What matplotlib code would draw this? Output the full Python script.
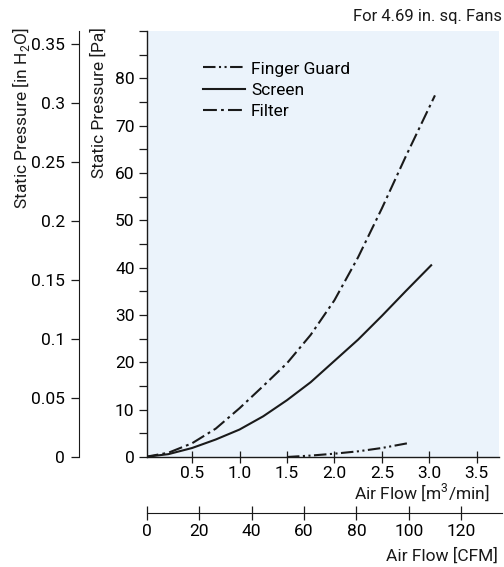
import matplotlib
matplotlib.use("Agg")
import matplotlib.pyplot as plt
from matplotlib.ticker import MultipleLocator, FixedLocator, FixedFormatter

# --- data ---
flow_screen = [0, 0.25, 0.5, 0.75, 1.0, 1.25, 1.5, 1.75, 2.0, 2.25, 2.5, 2.75, 3.02]
pa_screen = [0, 0.6, 1.9, 3.7, 5.8, 8.6, 12.0, 15.8, 20.3, 24.8, 29.8, 35.0, 40.5]

flow_filter = [0, 0.25, 0.5, 0.75, 1.0, 1.25, 1.5, 1.75, 2.0, 2.25, 2.5, 2.75, 3.06]
pa_filter = [0, 0.9, 2.9, 6.0, 10.3, 15.0, 19.8, 25.8, 33.1, 42.2, 52.5, 63.4, 76.4]

flow_guard = [1.5, 1.75, 2.0, 2.25, 2.5, 2.77]
pa_guard = [0, 0.3, 0.7, 1.2, 1.9, 2.9]

m3_ticks = [0.5, 1.0, 1.5, 2.0, 2.5, 3.0, 3.5]
cfm_ticks = [0, 20, 40, 60, 80, 100, 120]
inh2o_ticks = [0, 0.05, 0.1, 0.15, 0.2, 0.25, 0.3, 0.35]
inh2o_labels = ["0", "0.05", "0.1", "0.15", "0.2", "0.25", "0.3", "0.35"]
PA_PER_INH2O = 249.09

# --- style ---
FONT = ["Roboto", "DejaVu Sans"]
plt.rcParams["font.family"] = FONT
plt.rcParams["mathtext.fontset"] = "custom"
plt.rcParams["mathtext.rm"] = "Roboto"
plt.rcParams["lines.scale_dashes"] = False
FS = 12.5
INK = "#1a1a1a"
BG = "#ebf3fb"

fig = plt.figure(figsize=(5.04, 5.67), dpi=100)
W, H = 504, 567

def box(x0, y0, x1, y1):
    # pixel box (top-left origin) -> figure rect
    return [x0 / W, 1 - y1 / H, (x1 - x0) / W, (y1 - y0) / H]

ax = fig.add_axes(box(147, 31, 499, 457))
ax.set_facecolor(BG)

lw = 1.5
ax.plot(flow_guard, pa_guard, color=INK, lw=lw,
        dashes=(9, 2.5, 1.5, 2.5, 1.5, 2.5), label="Finger Guard")
ax.plot(flow_screen, pa_screen, color=INK, lw=lw, label="Screen")
ax.plot(flow_filter, pa_filter, color=INK, lw=lw,
        dashes=(10, 3, 2, 3), label="Filter")

ax.set_xlim(0.025, 3.735)
ax.set_ylim(0, 90)
for s in ["top", "right"]:
    ax.spines[s].set_visible(False)
for s in ["left", "bottom"]:
    ax.spines[s].set_color(INK)
    ax.spines[s].set_linewidth(1.0)

ax.set_yticks(range(0, 81, 10))
ax.yaxis.set_minor_locator(MultipleLocator(5))
ax.tick_params(axis="y", which="both", direction="out", length=6, width=0.9,
               color=INK, labelsize=FS, pad=3)
ax.xaxis.set_major_locator(FixedLocator(m3_ticks))
ax.xaxis.set_major_formatter(FixedFormatter([f"{t:.1f}" for t in m3_ticks]))
ax.tick_params(axis="x", direction="inout", length=9, width=0.9,
               color=INK, labelsize=FS, pad=2)

leg = ax.legend(loc="upper left", bbox_to_anchor=(0.14, 0.945), frameon=False,
                fontsize=FS, handlelength=2.4, handletextpad=0.35,
                labelspacing=0.36, borderaxespad=0)

fig.text(490 / W, 1 - 493 / H, "Air Flow [m$^\\mathregular{3}$/min]", ha="right",
         va="center", fontsize=FS, color=INK)

# in H2O axis on the far left
sec = ax.secondary_yaxis((79 - 147) / (499 - 147),
                         functions=(lambda p: p / PA_PER_INH2O,
                                    lambda h: h * PA_PER_INH2O))
sec.spines["left"].set_color(INK)
sec.set_yticks(inh2o_ticks)
sec.yaxis.set_major_formatter(FixedFormatter(inh2o_labels))
sec.tick_params(axis="y", direction="out", length=6, width=0.9, color=INK,
                labelsize=FS, pad=4)

fig.text(21 / W, 1 - 27 / H, "Static Pressure [in H$_\\mathregular{2}$O]",
         rotation=90, ha="center", va="top", fontsize=FS, color=INK)
fig.text(99 / W, 1 - 27 / H, "Static Pressure [Pa]",
         rotation=90, ha="center", va="top", fontsize=FS, color=INK)

# CFM axis below
cax = fig.add_axes(box(146.7, 480, 502, 513))
cax.patch.set_visible(False)
for s in ["top", "right", "left"]:
    cax.spines[s].set_visible(False)
cax.spines["bottom"].set_color(INK)
cax.set_xlim(0, 135.6)
cax.set_yticks([])
cax.set_xticks(cfm_ticks)
cax.tick_params(axis="x", direction="inout", length=10, width=0.9, color=INK,
                labelsize=FS, pad=3)
fig.text(498 / W, 1 - 556 / H, "Air Flow [CFM]", ha="right", va="center",
         fontsize=FS, color=INK)

fig.text(502 / W, 1 - 16 / H, "For 4.69 in. sq. Fans", ha="right", va="center",
         fontsize=FS - 0.5, color=INK)

fig.savefig("out.png", dpi=100)
